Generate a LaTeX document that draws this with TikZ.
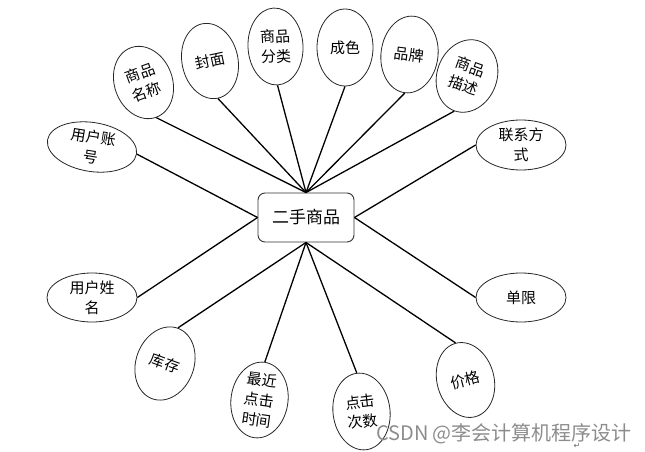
\documentclass[tikz,border=0pt]{standalone}
\usepackage{fontspec}
\setmainfont{Liberation Serif}
\newfontfamily\cjk{Noto Sans CJK SC}
\newfontfamily\dejavu{DejaVu Sans}
\usetikzlibrary{shapes.geometric}
\begin{document}
\begin{tikzpicture}[x=1pt,y=-1pt,
  attr/.style={draw=black!85, line width=0.8pt, ellipse, inner sep=0pt,
    minimum width=57pt, minimum height=76pt, align=center,
    font=\cjk\fontsize{15}{20}\selectfont},
  wide/.style={attr, minimum width=90pt, minimum height=49pt},
  link/.style={line width=1.3pt, draw=black}]
\useasboundingbox (0,0) rectangle (645,452);
\node[draw=black!80, line width=0.9pt, rounded corners=7pt, minimum width=96pt,
  minimum height=49pt, inner sep=0pt, font=\cjk\fontsize{17}{20}\selectfont]
  (main) at (306,217.5) {二手商品};

\node[wide, rotate=-9] (n1) at (92,147) {用户账\\号};
\node[attr, rotate=20, minimum width=58pt, minimum height=74pt] (n2) at (143.5,82.5) {商品\\名称};
\node[attr, rotate=12, minimum width=56pt] (n3) at (210,61) {封面};
\node[attr, rotate=3, minimum width=55pt, minimum height=77pt] (n4) at (275.5,46.5) {商品\\分类};
\node[attr, minimum width=56pt, minimum height=77pt] (n5) at (345,47.5) {成色};
\node[attr, rotate=-7, minimum height=77pt] (n6) at (409.5,54.5) {品牌};
\node[attr, rotate=-20, minimum width=60pt, minimum height=74pt] (n7) at (467,76) {商品\\描述};
\node[wide, minimum height=50pt] (n8) at (521,145) {联系方\\式};
\node[wide] (n9) at (92,297.5) {用户姓\\名};
\node[wide] (n10) at (521,297.5) {单限};
\node[attr, rotate=-20, minimum width=58pt, minimum height=75pt] (n11) at (165,363.5) {库存};
\node[attr, rotate=-8] (n12) at (259.5,400) {最近\\点击\\时间};
\node[attr, rotate=7, minimum height=77pt] (n13) at (361.5,411.5) {点击\\次数};
\node[attr, rotate=15] (n14) at (465.5,380) {价格};

\foreach \n in {n2,n3,n4,n5,n6,n7} \draw[link] (main.north) -- (\n.south);
\foreach \n in {n1,n9} \draw[link] (main.west) -- (\n.east);
\foreach \n in {n8,n10} \draw[link] (main.east) -- (\n.west);
\foreach \n in {n11,n12,n13,n14} \draw[link] (main.south) -- (\n.north);

\node[font=\cjk\fontsize{20}{20}\selectfont, text=black!45, inner sep=0pt] (wm) at (504,434) {CSDN @李会计算机程序设计};
\node[font=\dejavu\fontsize{8}{8}\selectfont, text=black!60, inner sep=0pt] (ret) at (577,446) {↵};
\end{tikzpicture}
\end{document}
